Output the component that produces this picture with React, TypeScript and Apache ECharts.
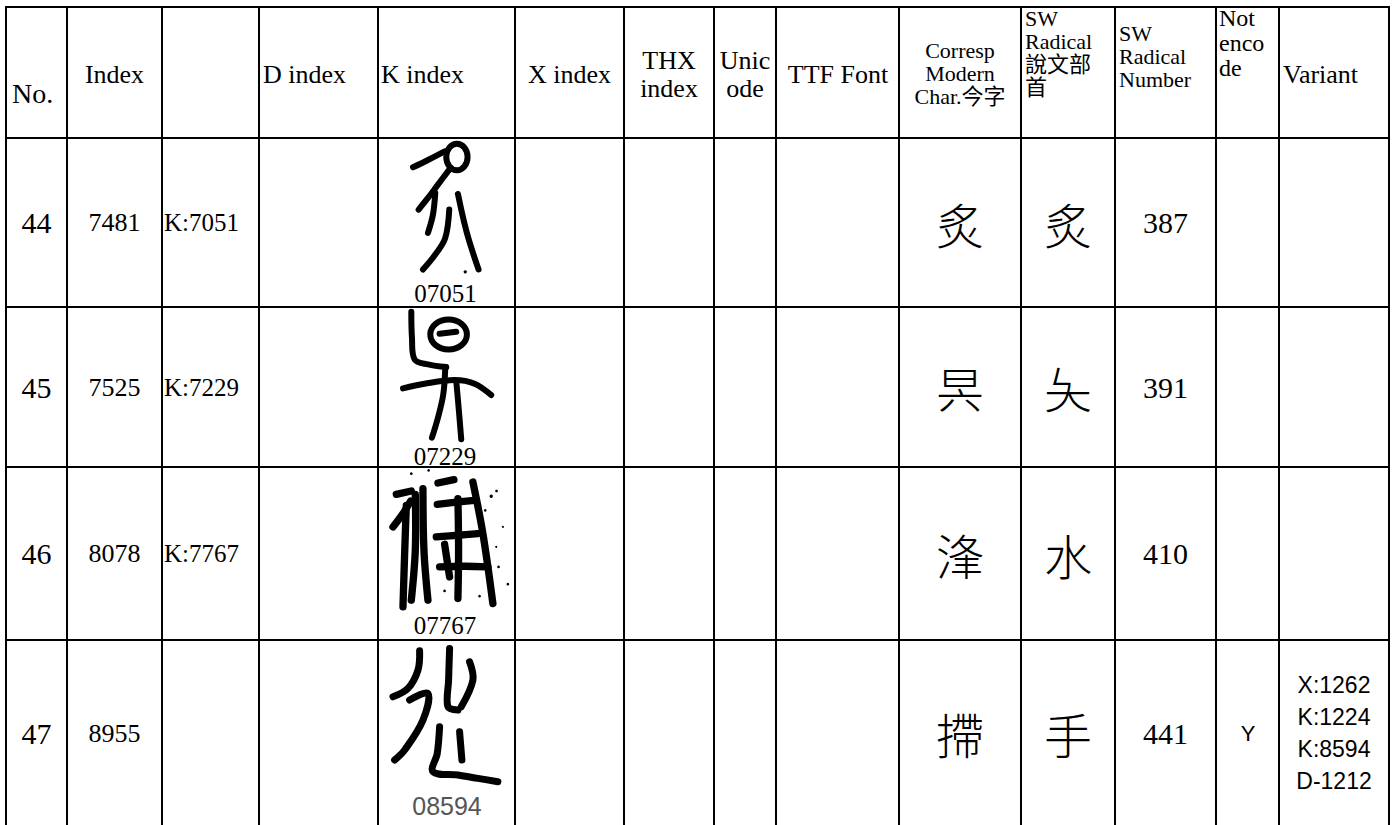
import React, { useEffect, useRef } from "react";
import * as echarts from "echarts";

// ---------- data ----------
const headerLabels = [
  "No.", "Index", "", "D index", "K index", "X index", "THX\nindex", "Unic\node",
  "TTF Font", "Corresp\nModern\nChar.今字", "SW\nRadical\n說文部\n首", "SW\nRadical\nNumber",
  "Not\nenco\nde", "Variant",
];
const rowNumbers = ["44", "45", "46", "47"];
const indexValues = ["7481", "7525", "8078", "8955"];
const kReferences = ["K:7051", "K:7229", "K:7767", ""];
const kImageLabels = ["07051", "07229", "07767", "08594"];
const modernChars = ["炙", "昗", "浲", "摕"];
const swRadicals = ["炙", "夨", "水", "手"];
const swRadicalNumbers = ["387", "391", "410", "441"];
const notEncoded = ["", "", "", "Y"];
const variants = [[], [], [], ["X:1262", "K:1224", "K:8594", "D-1212"]];

// ---------- layout ----------
const COL_X = [6, 67, 162, 259, 378, 515, 624, 714, 776, 899, 1021, 1115, 1216, 1279, 1389];
const ROW_Y = [7, 138, 307, 467, 640, 826];
const SERIF = '"Liberation Serif", "Times New Roman", "Noto Sans CJK TC", serif';
const SANS = '"Liberation Sans", "Noto Sans", sans-serif';
const CJK = '"Noto Sans CJK TC", "Noto Sans CJK SC", sans-serif';

const headerLayout = [
  { x: 12, align: "left", ys: [93], size: 28 },
  { x: 114.5, align: "center", ys: [74], size: 26 },
  null,
  { x: 263, align: "left", ys: [74], size: 26 },
  { x: 381, align: "left", ys: [74], size: 26 },
  { x: 569.5, align: "center", ys: [74], size: 26 },
  { x: 669, align: "center", ys: [60, 88], size: 26 },
  { x: 745, align: "center", ys: [60, 88], size: 26 },
  { x: 838, align: "center", ys: [74], size: 26 },
  { x: 960, align: "center", ys: [50, 73, 96], size: 22 },
  { x: 1025, align: "left", ys: [18, 41, 64, 87], size: 22 },
  { x: 1119, align: "left", ys: [33, 56, 79], size: 22 },
  { x: 1219, align: "left", ys: [18, 43, 68], size: 24 },
  { x: 1283, align: "left", ys: [74], size: 26 },
];

// seal-script glyph sketches (local coords, 3x units; origin at K column left / given top)
type Glyph = { oy: number; w: number; strokes: number[][][]; ellipses: number[][]; dots: number[][] };
const sealGlyphs: Glyph[] = [
  {
    oy: 138, w: 18,
    strokes: [
      [[105, 88], [150, 66], [200, 40]],
      [[214, 95], [180, 140], [150, 180], [122, 215]],
      [[172, 165], [165, 230], [150, 285]],
      [[240, 168], [258, 250], [274, 310], [302, 395]],
      [[214, 215], [202, 300], [172, 350], [135, 395]],
    ],
    ellipses: [[237, 57, 32, 40]],
    dots: [[262, 402, 5]],
  },
  {
    oy: 138, w: 18,
    strokes: [
      [[100, 522], [102, 600], [110, 665], [150, 680], [205, 688]],
      [[185, 588], [235, 582]],
      [[75, 752], [140, 738], [230, 727], [290, 738], [340, 772]],
      [[202, 690], [196, 770], [180, 840], [162, 900]],
      [[235, 730], [243, 820], [250, 905]],
    ],
    ellipses: [[212, 590, 55, 45]],
    dots: [],
  },
  {
    oy: 467, w: 22,
    strokes: [
      [[55, 82], [100, 72]],
      [[45, 180], [75, 140], [98, 102]],
      [[85, 115], [80, 260], [75, 420]],
      [[112, 82], [112, 250], [100, 400]],
      [[135, 65], [138, 250], [150, 400]],
      [[180, 48], [228, 38]],
      [[285, 45], [315, 200], [345, 410]],
      [[178, 112], [250, 104], [290, 100]],
      [[175, 210], [240, 205], [300, 200]],
      [[185, 300], [260, 298], [330, 300]],
      [[240, 95], [242, 250], [240, 395]],
      [[200, 232], [215, 330]],
    ],
    ellipses: [],
    dots: [[100, 20, 4], [152, 10, 4], [210, 40, 3], [340, 88, 5], [356, 72, 4], [322, 130, 4], [362, 300, 4], [390, 352, 4], [305, 388, 4], [200, 372, 4], [355, 240, 3], [375, 180, 3]],
  },
  {
    oy: 467, w: 21,
    strokes: [
      [[125, 552], [120, 610], [90, 665], [45, 690]],
      [[95, 700], [150, 680], [135, 760], [80, 850], [50, 880]],
      [[215, 545], [212, 640], [210, 720], [240, 730]],
      [[275, 585], [285, 640], [250, 720]],
      [[185, 780], [178, 860], [165, 915], [240, 925], [300, 935], [360, 945]],
      [[245, 795], [252, 880]],
    ],
    ellipses: [],
    dots: [],
  },
];
const captionLayout = [
  { x: 445.5, y: 293, font: SERIF, color: "#000" },
  { x: 445, y: 456, font: SERIF, color: "#000" },
  { x: 445, y: 625, font: SERIF, color: "#000" },
  { x: 447, y: 806, font: SANS, color: "#555" },
];

function txt(text: string, x: number, y: number, size: number, family: string, align = "center", fill = "#000", weight: any = "normal") {
  return {
    type: "text",
    x, y,
    silent: true,
    style: {
      text, fill, fontSize: size, fontFamily: family, fontWeight: weight,
      align, verticalAlign: "middle", textAlign: align, textVerticalAlign: "middle",
    },
  };
}

function buildElements() {
  const els: any[] = [];
  els.push({ type: "rect", shape: { x: 0, y: 0, width: 1397, height: 825 }, style: { fill: "#fff" }, silent: true });

  // seal glyph images
  sealGlyphs.forEach((g) => {
    const children: any[] = [];
    g.strokes.forEach((pts) => {
      children.push({
        type: "polyline",
        shape: { points: pts, smooth: 0.35 },
        style: { stroke: "#000", lineWidth: g.w, fill: null, lineCap: "round", lineJoin: "round" },
      });
    });
    g.ellipses.forEach((e) => {
      children.push({
        type: "ellipse",
        shape: { cx: e[0], cy: e[1], rx: e[2], ry: e[3] },
        style: { stroke: "#000", lineWidth: g.w, fill: null },
      });
    });
    g.dots.forEach((d) => {
      children.push({ type: "circle", shape: { cx: d[0], cy: d[1], r: d[2] }, style: { fill: "#000" } });
    });
    els.push({ type: "group", x: COL_X[4], y: g.oy, scaleX: 1 / 3, scaleY: 1 / 3, children, silent: true });
  });

  // grid lines
  for (let i = 0; i < ROW_Y.length - 1; i++) {
    els.push({ type: "line", shape: { x1: COL_X[0] - 1, y1: ROW_Y[i], x2: COL_X[COL_X.length - 1] + 1, y2: ROW_Y[i] }, style: { stroke: "#000", lineWidth: 2 }, silent: true });
  }
  COL_X.forEach((x) => {
    els.push({ type: "line", shape: { x1: x, y1: ROW_Y[0] - 1, x2: x, y2: ROW_Y[ROW_Y.length - 1] }, style: { stroke: "#000", lineWidth: 2 }, silent: true });
  });

  // header
  headerLabels.forEach((label, c) => {
    const lay = headerLayout[c];
    if (!lay || !label) return;
    label.split("\n").forEach((line, li) => {
      els.push(txt(line, lay.x, lay.ys[li], lay.size, SERIF, lay.align));
    });
  });

  // body rows
  rowNumbers.forEach((no, r) => {
    const cy = (ROW_Y[r + 1] + ROW_Y[r + 2]) / 2;
    els.push(txt(no, 36.5, cy, 30, SERIF));
    els.push(txt(indexValues[r], 114.5, cy, 26, SERIF));
    if (kReferences[r]) els.push(txt(kReferences[r], 164, cy, 25, SERIF, "left"));
    const cap = captionLayout[r];
    els.push(txt(kImageLabels[r], cap.x, cap.y, 25, cap.font, "center", cap.color));
    els.push(txt(modernChars[r], 960, cy, 48, CJK, "center", "#000", 300));
    els.push(txt(swRadicals[r], 1068, cy, 48, CJK, "center", "#000", 300));
    els.push(txt(swRadicalNumbers[r], 1165.5, cy, 30, SERIF));
    if (notEncoded[r]) els.push(txt(notEncoded[r], 1248, cy, 22, SANS));
    const v = variants[r];
    v.forEach((line, li) => {
      els.push(txt(line, 1334, cy + (li - (v.length - 1) / 2) * 32, 23, SANS));
    });
  });
  return els;
}

export default function App() {
  const ref = useRef<HTMLDivElement>(null);
  useEffect(() => {
    document.body.style.margin = "0";
    document.body.style.overflow = "hidden";
    if (!ref.current) return;
    const chart = echarts.init(ref.current, null, { renderer: "svg" });
    chart.setOption({
      animation: false,
      backgroundColor: "#fff",
      graphic: { elements: buildElements() },
    });
    return () => chart.dispose();
  }, []);
  return <div ref={ref} style={{ position: "absolute", left: 0, top: 0, width: 1397, height: 825, background: "#fff" }} />;
}
